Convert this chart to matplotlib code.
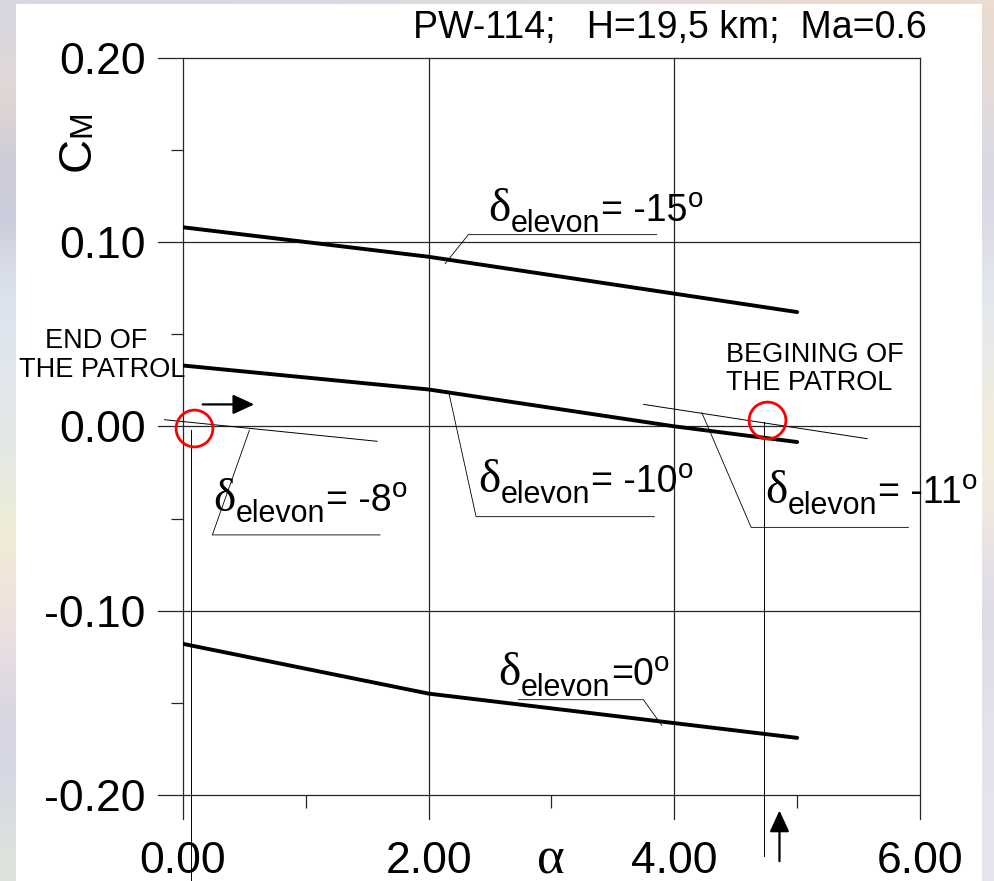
import numpy as np
import matplotlib
matplotlib.use("Agg")
import matplotlib.pyplot as plt
from matplotlib.patches import Rectangle

plt.rcParams["font.family"] = ["Liberation Sans", "DejaVu Sans"]

# ---- data -------------------------------------------------------------
alpha_pts = [0.0, 2.0, 4.0, 5.0]
cm_elevon_m15 = [0.108, 0.092, 0.072, 0.062]
cm_elevon_m10 = [0.033, 0.020, 0.000, -0.0085]
cm_elevon_0 = [-0.118, -0.145, -0.161, -0.169]

alpha_elevon_m8 = [-0.15, 1.58]
cm_elevon_m8 = [0.0036, -0.0081]
alpha_elevon_m11 = [3.75, 5.57]
cm_elevon_m11 = [0.0119, -0.0067]

# trim points: end / beginning of the patrol
trim_end = (0.086, -0.0008)
trim_start = (4.756, 0.0033)
trim_end_alpha = 0.065
trim_start_alpha = 4.73

x_ticks = [0.0, 2.0, 4.0, 6.0]
x_tick_labels = ["0.00", "2.00", "4.00", "6.00"]
y_ticks = [-0.20, -0.10, 0.00, 0.10, 0.20]
y_tick_labels = ["-0.20", "-0.10", "0.00", "0.10", "0.20"]
x_minor = [1.0, 3.0, 5.0]
y_minor = [-0.15, -0.05, 0.05, 0.15]

title_text = "PW-114;   H=19,5 km;  Ma=0.6"

# ---- figure -----------------------------------------------------------
W, H = 995, 881
fig = plt.figure(figsize=(W / 100, H / 100), dpi=100)

# soft coloured backdrop around the white sheet
left_cols = ["#d6d6e2", "#e8d8d0", "#cacada", "#c9c9d9", "#dde4ee", "#dfe6ee",
             "#e4e8ec", "#e4eae0", "#f2eed2", "#f2e4dc", "#e8dce4", "#d4d4e2",
             "#d6d8e4", "#dce4dc"]
right_cols = ["#ecdcd0", "#e6dcd8", "#d8d8e4", "#dadae6", "#e4e8ec", "#e8eaec",
              "#f2eedc", "#f2eedc", "#ece6e4", "#e0dce8", "#e0dce8", "#e4e4ee",
              "#e4e4ee", "#e6e6ee"]
mid_cols = ["#dcdce4"] * len(left_cols)
rgb = lambda c: [int(c[i:i + 2], 16) / 255 for i in (1, 3, 5)]
bg_img = np.array([[rgb(a), rgb(m), rgb(b)] for a, m, b in zip(left_cols, mid_cols, right_cols)])
bg = fig.add_axes([0, 0, 1, 1], zorder=-10)
bg.imshow(bg_img, aspect="auto", interpolation="bicubic", extent=[0, 1, 0, 1])
bg.axis("off")
fig.add_artist(Rectangle((16 / W, 0), (982 - 16) / W, (H - 4) / H,
                         transform=fig.transFigure, facecolor="white",
                         edgecolor="none", zorder=-5))

ax = fig.add_axes([183 / W, 86 / H, 737 / W, 737.3 / H])
ax.set_xlim(0, 6)
ax.set_ylim(-0.2, 0.2)
for s in ax.spines.values():
    s.set_visible(False)
ax.patch.set_alpha(0)

grid_kw = dict(color="#262626", lw=0.9, clip_on=False, zorder=1)
for yv in y_ticks:
    ax.axhline(yv, xmin=-25 / 737, xmax=1, **grid_kw)
for xv in x_ticks:
    ax.axvline(xv, ymin=-24 / 737.3, ymax=1, **grid_kw)

ax.set_xticks(x_ticks, labels=x_tick_labels)
ax.set_yticks(y_ticks, labels=y_tick_labels)
ax.set_xticks(x_minor, minor=True)
ax.set_yticks(y_minor, minor=True)
ax.tick_params(which="major", length=0, labelsize=32)
ax.tick_params(axis="x", which="major", pad=33)
ax.tick_params(axis="y", which="major", pad=27)
ax.tick_params(which="minor", direction="out", length=9, width=0.9, color="#262626")

# main curves
curve_kw = dict(color="black", lw=2.8, solid_capstyle="round", zorder=3)
ax.plot(alpha_pts, cm_elevon_m15, **curve_kw)
ax.plot(alpha_pts, cm_elevon_m10, **curve_kw)
ax.plot(alpha_pts, cm_elevon_0, **curve_kw)

thin_kw = dict(color="black", lw=0.7, clip_on=False, zorder=3)
ax.plot(alpha_elevon_m8, cm_elevon_m8, **thin_kw)
ax.plot(alpha_elevon_m11, cm_elevon_m11, **thin_kw)

# trim verticals
ax.plot([trim_end_alpha, trim_end_alpha], [-0.0018, -0.2469], **thin_kw)
ax.plot([trim_start_alpha, trim_start_alpha], [0.0022, -0.2333], **thin_kw)

# leader lines to the labels
leaders = [
    ([2.134, 2.323, 3.857], [0.0883, 0.1040, 0.1040]),
    ([2.166, 2.386, 3.838], [0.0177, -0.0490, -0.0490]),
    ([0.540, 0.239, 1.604], [-0.0022, -0.0589, -0.0589]),
    ([4.224, 4.625, 5.906], [0.0074, -0.0548, -0.0548]),
    ([2.730, 3.748, 3.898], [-0.1483, -0.1483, -0.1622]),
]
for lx, ly in leaders:
    ax.plot(lx, ly, color="black", lw=0.6, clip_on=False, zorder=2)


def delta_label(x, y, value):
    t1 = ax.text(x, y, "\u03b4", fontsize=34, family="Liberation Serif",
                 va="baseline", ha="left", zorder=4)
    t2 = ax.annotate("elevon", xy=(1, y), xycoords=(t1, "data"), xytext=(0, -11),
                     textcoords="offset pixels", fontsize=22, va="baseline", ha="left")
    t3 = ax.annotate(value, xy=(1, y), xycoords=(t2, "data"), xytext=(1, 0),
                     textcoords="offset pixels", fontsize=27, va="baseline", ha="left")
    ax.annotate("o", xy=(1, y), xycoords=(t3, "data"), xytext=(0, 14),
                textcoords="offset pixels", fontsize=20, va="baseline", ha="left")


delta_label(2.488, 0.1112, "= -15")
delta_label(2.406, -0.0356, "= -10")
delta_label(0.248, -0.0461, "= -8")
delta_label(4.739, -0.0418, "= -11")
delta_label(2.569, -0.1405, "=0")

# patrol annotations
txt_kw = dict(fontsize=19.5, va="baseline")
ax.text(-0.708, 0.0423, "END OF", ha="center", **txt_kw)
ax.text(-0.660, 0.0266, "THE PATROL", ha="center", **txt_kw)
ax.text(4.42, 0.0347, "BEGINING OF", ha="left", **txt_kw)
ax.text(4.42, 0.0195, "THE PATROL", ha="left", **txt_kw)

# trim point markers
for cx, cy in (trim_end, trim_start):
    ax.plot([cx], [cy], "o", ms=26.5, mfc="none", mec="#ff0000", mew=2.0,
            clip_on=False, zorder=5)

arrow_kw = dict(arrowstyle="-|>,head_length=0.65,head_width=0.3", color="black",
                lw=1.6, shrinkA=0, shrinkB=0, mutation_scale=20)
ax.annotate("", xy=(0.58, 0.0119), xytext=(0.16, 0.0119),
            arrowprops=arrow_kw, annotation_clip=False)
ax.annotate("", xy=(4.856, -0.2084), xytext=(4.856, -0.2359),
            arrowprops=arrow_kw, annotation_clip=False)

# axis titles
fig.text(551 / W, 8 / H, "\u03b1", family="Liberation Serif", fontsize=38,
         ha="center", va="baseline")
fig.text(90 / W, (H - 171) / H, "C", fontsize=34, rotation=90,
         rotation_mode="anchor", ha="left", va="baseline")
fig.text(90 / W, (H - 137) / H, "M", fontsize=23, rotation=90,
         rotation_mode="anchor", ha="left", va="baseline")

fig.text(927 / W, (H - 38) / H, title_text, fontsize=27, ha="right", va="baseline")

fig.savefig("out.png", dpi=100)
